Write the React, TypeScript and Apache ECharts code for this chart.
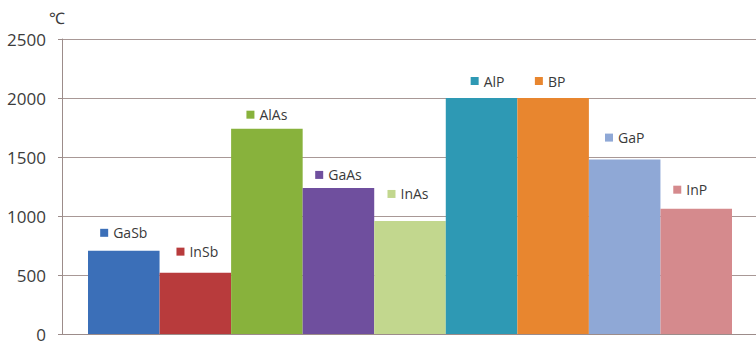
import React, { useEffect, useRef } from "react";
import * as echarts from "echarts";

const categories = ["GaSb", "InSb", "AlAs", "GaAs", "InAs", "AlP", "BP", "GaP", "InP"];
const meltingPoints = [705, 520, 1740, 1238, 958, 2000, 2000, 1478, 1062];
const barColors = ["#3b6fb8", "#b83b3c", "#88b23c", "#6f4f9e", "#c2d78e", "#2e99b4", "#e8862f", "#8fa8d6", "#d58a8d"];
const yTicks = [0, 500, 1000, 1500, 2000, 2500];
const unitLabel = "℃";
// label nudges (style): [dx, gap above bar top in px]
const labelNudges: [number, number][] = [
  [0, 18], [2, 21], [0, 14], [0, 13], [-2, 27], [6, 17], [-3, 17], [0, 22], [-6, 19],
];

const FONT = "'Open Sans', 'Noto Sans', sans-serif";

export default function App() {
  const ref = useRef<HTMLDivElement>(null);
  useEffect(() => {
    if (!ref.current) return;
    const chart = echarts.init(ref.current, undefined, { renderer: "svg" });
    const yMax = yTicks[yTicks.length - 1];
    const data = meltingPoints.map((v, i) => ({
      value: v,
      itemStyle: { color: barColors[i] },
      label: {
        offset: [labelNudges[i][0], -(labelNudges[i][1] - 8)],
        rich: {
          sq: { width: 8, height: 8, backgroundColor: barColors[i] },
          t: { fontSize: 14, color: "#3a3a3a", fontFamily: FONT, padding: [0, 0, 0, 5] },
        },
      },
    }));
    chart.setOption({
      animation: false,
      textStyle: { fontFamily: FONT },
      grid: [
        { left: 62, right: 0, top: 39, bottom: 10 },
        { left: 88, right: 24, top: 39, bottom: 10 },
      ],
      xAxis: [
        {
          gridIndex: 0,
          type: "value",
          min: 0,
          max: 1,
          axisLine: { show: true, lineStyle: { color: "#9c8c8a", width: 1 } },
          axisTick: { show: false },
          axisLabel: { show: false },
          splitLine: { show: false },
        },
        {
          gridIndex: 1,
          type: "category",
          data: categories,
          axisLine: { show: false },
          axisTick: { show: false },
          axisLabel: { show: false },
        },
      ],
      yAxis: [
        {
          gridIndex: 0,
          type: "value",
          min: 0,
          max: yMax,
          interval: 500,
          axisLine: { show: true, lineStyle: { color: "#9c8c8a", width: 1 } },
          axisTick: { show: true, length: 4, lineStyle: { color: "#9c8c8a" } },
          axisLabel: {
            fontSize: 17,
            color: "#3c3c3c",
            margin: 16,
            fontFamily: FONT,
            formatter: (v: number) => String(v),
          },
          splitLine: { show: true, lineStyle: { color: "#a89896", width: 1 } },
        },
        {
          gridIndex: 1,
          type: "value",
          min: 0,
          max: yMax,
          show: false,
          splitLine: { show: false },
        },
      ],
      graphic: [
        {
          type: "text",
          left: 49,
          top: 10,
          style: { text: unitLabel, fontSize: 16, fill: "#3c3c3c", fontFamily: FONT },
        },
      ],
      series: [
        {
          type: "bar",
          xAxisIndex: 1,
          yAxisIndex: 1,
          barCategoryGap: 0,
          data,
          label: {
            show: true,
            position: "top",
            distance: 0,
            lineHeight: 16,
            formatter: (p: any) => `{sq|}{t|${p.name}}`,
          },
        },
      ],
    });
    return () => chart.dispose();
  }, []);
  return <div ref={ref} style={{ width: 756, height: 344, position: "absolute", left: 0, top: 0 }} />;
}
